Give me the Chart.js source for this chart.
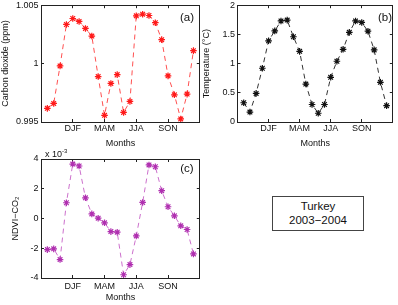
<!DOCTYPE html>
<html>
<head>
<meta charset="utf-8">
<script src="https://cdn.jsdelivr.net/npm/chart.js@4/dist/chart.umd.min.js"></script>
<style>
    html, body { margin: 0; padding: 0; background: #fff; }
    #page { position: relative; width: 398px; height: 305px; overflow: hidden; font-family: 'Liberation Sans', Arial, sans-serif; color: #111; }
    canvas { position: absolute; }
    .tag { position: absolute; font-size: 11.5px; transform: translate(-50%, -50%); white-space: nowrap; }
    .exp { position: absolute; left: 45px; top: 146px; font-size: 9px; line-height: 11px; }
    .exp sup { font-size: 6px; vertical-align: 4px; }
    .note { position: absolute; left: 272px; top: 196px; width: 92px; height: 35px; box-sizing: border-box;
            border: 1px solid #444; padding-top: 2px; text-align: center; font-size: 11.5px; line-height: 14.4px; }
</style>
</head>
<body>
<div id="page">
    <canvas id="co2Chart" width="205" height="150" style="left:0;top:0"></canvas>
    <canvas id="tempChart" width="197" height="150" style="left:201px;top:0"></canvas>
    <canvas id="ndviChart" width="205" height="155" style="left:0;top:150px"></canvas>
    <div class="tag" style="left:187px;top:17px">(a)</div>
    <div class="tag" style="left:385px;top:17px">(b)</div>
    <div class="tag" style="left:187px;top:168px">(c)</div>
    <div class="exp">x 10<sup>-3</sup></div>
    <div class="note">Turkey<br>2003−2004</div>
</div>
<script>
// ── Data ──────────────────────────────────────────────────────────────────
const monthTicks = [5, 10, 15, 20];
const seasonLabels = ['DJF', 'MAM', 'JJA', 'SON'];

const co2Values = [0.99617, 0.99659, 0.9998, 1.00335, 1.00386, 1.00361, 1.00301, 1.00236,
                   0.99889, 0.99557, 0.9983, 0.99906, 0.99582, 0.99676, 1.00409, 1.00423,
                   1.00412, 1.0035, 1.00205, 0.99895, 0.99733, 0.99526, 0.99739, 1.00111];
const co2Ticks = [0.995, 1, 1.005];

const tempValues = [0.33, 0.17, 0.49, 0.92, 1.39, 1.56, 1.73, 1.745,
                    1.46, 1.21, 0.65, 0.30, 0.15, 0.30, 0.765, 1.04,
                    1.245, 1.535, 1.73, 1.705, 1.555, 1.235, 0.68, 0.28];
const tempTicks = [0, 0.5, 1, 1.5, 2];

// NDVI-CO2 in units of 10^-3
const ndviCo2Values = [-2.09, -2.04, -2.76, 1.06, 3.66, 3.53, 1.39, 0.31,
                       0.02, -0.29, -0.88, -0.92, -3.78, -3.10, -1.17, 1.08,
                       3.60, 3.48, 1.87, 0.79, 0.18, -0.49, -0.74, -2.38];
const ndviTicks = [-4, -2, 0, 2, 4];

Chart.defaults.font.family = "'Liberation Sans', Arial, sans-serif";
Chart.defaults.font.size = 9;
Chart.defaults.color = '#111';

// ── Shared panel builder (MATLAB-style box axes, inward ticks) ───────────
function panel(canvasId, cfg) {
    const frame = { display: true, color: '#222', width: 1 };
    const inward = { display: true, drawOnChartArea: false, drawTicks: true, tickLength: -3, color: '#222' };
    const setTicks = list => s => { s.ticks = list.map(v => ({ value: v })); };
    const ctx = document.getElementById(canvasId).getContext('2d');
    return new Chart(ctx, {
        type: 'line',
        data: {
            datasets: [{
                data: cfg.values.map((v, i) => ({ x: i + 1, y: v })),
                borderColor: cfg.lineColor,
                borderWidth: 1,
                borderDash: [5, 4],
                tension: 0,
                pointStyle: 'star',
                pointRadius: 3.3,
                pointBorderWidth: 1.2,
                pointBorderColor: cfg.color,
                pointBackgroundColor: cfg.color
            }]
        },
        options: {
            responsive: false,
            animation: false,
            layout: { padding: cfg.padding },
            plugins: { legend: { display: false }, tooltip: { enabled: false } },
            scales: {
                x: {
                    type: 'linear', position: 'bottom', min: 0, max: 25,
                    afterBuildTicks: setTicks(monthTicks),
                    afterFit: s => { s.height = cfg.xHeight; s.paddingLeft = 0; s.paddingRight = 0; },
                    ticks: { padding: cfg.xTickPad, maxRotation: 0, autoSkip: false,
                             callback: v => seasonLabels[monthTicks.indexOf(v)] },
                    grid: inward, border: frame,
                    title: { display: true, text: 'Months', padding: { top: 0, bottom: cfg.xTitlePad } }
                },
                x2: {
                    type: 'linear', position: 'top', min: 0, max: 25,
                    afterBuildTicks: setTicks(monthTicks),
                    afterFit: s => { s.height = 0; s.paddingLeft = 0; s.paddingRight = 0; },
                    ticks: { display: false }, grid: inward, border: frame
                },
                y: {
                    type: 'linear', position: 'left', min: cfg.ticks[0], max: cfg.ticks[cfg.ticks.length - 1],
                    afterBuildTicks: setTicks(cfg.ticks),
                    afterFit: s => { s.width = cfg.yWidth; s.paddingTop = 0; s.paddingBottom = 0; },
                    ticks: { padding: 5.5, callback: v => String(v) },
                    grid: inward, border: frame,
                    title: { display: true, text: cfg.yTitle, padding: { top: cfg.yTitlePad, bottom: 0 } }
                },
                y2: {
                    type: 'linear', position: 'right', min: cfg.ticks[0], max: cfg.ticks[cfg.ticks.length - 1],
                    afterBuildTicks: setTicks(cfg.ticks),
                    afterFit: s => { s.width = 0; s.paddingTop = 0; s.paddingBottom = 0; },
                    ticks: { display: false }, grid: inward, border: frame
                }
            }
        }
    });
}

// ── (a) Carbon dioxide ────────────────────────────────────────────────────
panel('co2Chart', {
    values: co2Values, ticks: co2Ticks,
    color: '#ff1a1a', lineColor: '#ff5050',
    yTitle: 'Carbon dioxide (ppm)', yWidth: 41, yTitlePad: 0,
    xHeight: 28, xTickPad: 4.6, xTitlePad: 0.6,
    padding: { left: 0, right: 4, top: 4, bottom: 0 }
});

// ── (b) Temperature ───────────────────────────────────────────────────────
panel('tempChart', {
    values: tempValues, ticks: tempTicks,
    color: '#111', lineColor: '#333',
    yTitle: 'Temperature (°C)', yWidth: 36.5, yTitlePad: 0.6,
    xHeight: 28, xTickPad: 4.6, xTitlePad: 0.6,
    padding: { left: 0, right: 1, top: 4, bottom: 0 }
});

// ── (c) NDVI-CO2 ──────────────────────────────────────────────────────────
panel('ndviChart', {
    values: ndviCo2Values, ticks: ndviTicks,
    color: '#b030b0', lineColor: '#cc70cc',
    yTitle: 'NDVI−CO₂', yWidth: 41, yTitlePad: 10,
    xHeight: 27, xTickPad: 6.6, xTitlePad: 1.6,
    padding: { left: 0, right: 4, top: 9, bottom: 0 }
});
</script>
</body>
</html>
